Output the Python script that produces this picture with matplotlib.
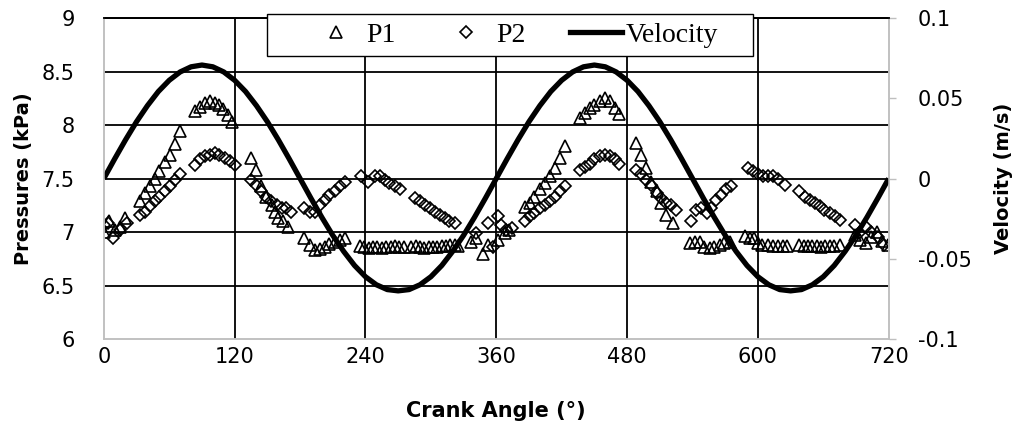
import numpy as np
import matplotlib
matplotlib.use("Agg")
import matplotlib.pyplot as plt
from matplotlib.lines import Line2D
from matplotlib.patches import Rectangle

# --- data ---
p1_deg = [0, 5, 10, 15, 19, 33, 37.5, 42, 47, 51, 56, 60.5, 65, 70,
          83.5, 88, 92.5, 97, 102, 106, 109, 114, 117.5,
          135, 140, 144.5, 149, 154, 157, 160, 164.5, 169,
          184, 189, 193.5, 198, 202.5, 207, 212, 216.5, 221,
          235, 239, 243, 247, 251, 255, 259, 263, 267, 271, 275,
          282, 286, 290, 294, 298, 302, 306, 310, 314, 318, 322, 325,
          337, 341.7, 348, 352.5, 361.6, 367.8, 372,
          386, 391, 395, 400, 404.5, 409, 413.6, 418, 423,
          436.6, 441, 445.7, 450, 455, 459.5, 464, 468.7, 473,
          488.5, 493, 497.7, 502, 507, 511.4, 516, 522,
          537.5, 542, 546.6, 551, 555.8, 560, 565, 569, 574,
          588, 592.5, 596, 600, 604, 609, 613.6, 618, 622.8, 627,
          638, 642, 646, 650, 654, 658, 662, 666, 670, 675,
          689, 694, 699, 704, 709, 714, 719]
p1_kpa = [7.00, 7.10, 7.02, 7.05, 7.13, 7.29, 7.36, 7.43, 7.50, 7.57, 7.65, 7.72, 7.82, 7.94,
          8.13, 8.17, 8.21, 8.22, 8.21, 8.19, 8.15, 8.09, 8.03,
          7.69, 7.58, 7.43, 7.33, 7.25, 7.19, 7.13, 7.10, 7.05,
          6.94, 6.88, 6.83, 6.84, 6.86, 6.89, 6.91, 6.93, 6.94,
          6.87, 6.86, 6.85, 6.86, 6.86, 6.85, 6.86, 6.86, 6.87, 6.86, 6.86,
          6.86, 6.87, 6.86, 6.85, 6.86, 6.86, 6.86, 6.87, 6.87, 6.88, 6.88, 6.87,
          6.91, 6.94, 6.79, 6.88, 6.93, 6.99, 7.02,
          7.23, 7.27, 7.33, 7.40, 7.46, 7.52, 7.60, 7.69, 7.80,
          8.07, 8.11, 8.16, 8.19, 8.22, 8.25, 8.22, 8.16, 8.10,
          7.83, 7.72, 7.60, 7.47, 7.38, 7.27, 7.16, 7.08,
          6.90, 6.91, 6.91, 6.86, 6.85, 6.86, 6.88, 6.90, 6.91,
          6.96, 6.94, 6.94, 6.90, 6.88, 6.88, 6.87, 6.87, 6.87, 6.87,
          6.88, 6.87, 6.87, 6.87, 6.87, 6.86, 6.87, 6.87, 6.87, 6.88,
          6.97, 6.93, 6.90, 6.95, 7.00, 6.92, 6.88]

p2_deg = [0, 4, 8.6, 15, 21,
          33, 37.6, 42, 47, 51, 56, 60.5, 65, 70,
          83.5, 88, 92.6, 97, 102, 106, 111, 115.6, 120,
          135.4, 140, 144.6, 149, 153.8, 158.4, 163, 167.5, 172,
          184, 189, 193.5, 198, 202.7, 207, 212, 216.5, 221,
          236, 242.4, 248.5, 253, 257.7, 262, 267, 271.5,
          285, 290, 294.4, 299, 303.6, 308, 312.8, 317, 322,
          341.7, 352.5, 357, 361.6, 364.7, 369.3, 374,
          386, 391, 395, 400, 404.5, 409, 413.6, 418, 423,
          436.6, 441, 445.7, 450, 455, 459.5, 464, 468.7, 473,
          488.5, 493, 497.7, 502, 507, 511.4, 516, 520.5, 525,
          539, 543.5, 548, 553, 557, 562, 566.5, 571, 575.7,
          591, 595.5, 600, 604.7, 609, 614, 618.4, 624.6,
          638, 643, 647.5, 652, 656.6, 661, 665.8, 670.4, 675,
          689, 693, 699, 704, 710, 716]
p2_kpa = [7.07, 7.08, 6.94, 7.02, 7.08,
          7.16, 7.19, 7.24, 7.29, 7.33, 7.38, 7.43, 7.49, 7.54,
          7.63, 7.68, 7.71, 7.72, 7.74, 7.72, 7.69, 7.66, 7.63,
          7.49, 7.44, 7.38, 7.33, 7.29, 7.25, 7.22, 7.22, 7.19,
          7.22, 7.19, 7.19, 7.25, 7.30, 7.35, 7.38, 7.43, 7.47,
          7.52, 7.47, 7.52, 7.52, 7.49, 7.46, 7.43, 7.40,
          7.32, 7.29, 7.25, 7.22, 7.19, 7.16, 7.13, 7.10, 7.08,
          6.99, 7.08, 6.86, 7.15, 7.07, 7.02, 7.04,
          7.10, 7.15, 7.18, 7.22, 7.25, 7.29, 7.33, 7.38, 7.43,
          7.58, 7.61, 7.64, 7.68, 7.71, 7.72, 7.71, 7.68, 7.64,
          7.58, 7.54, 7.49, 7.44, 7.36, 7.32, 7.27, 7.25, 7.21,
          7.10, 7.21, 7.22, 7.18, 7.22, 7.30, 7.35, 7.40, 7.43,
          7.60, 7.57, 7.54, 7.52, 7.52, 7.52, 7.50, 7.44,
          7.38, 7.33, 7.30, 7.27, 7.24, 7.21, 7.18, 7.15, 7.11,
          7.07, 6.99, 7.05, 7.00, 6.95, 6.88]

# piston velocity, read every 10 degrees
vel_deg = list(range(0, 721, 10))
vel_ms = [0.0, 0.0123, 0.0242, 0.0354, 0.0454, 0.0542, 0.0612, 0.0664, 0.0696,
          0.0707, 0.0696, 0.0664, 0.0612, 0.0542, 0.0454, 0.0354, 0.0242, 0.0123,
          0.0, -0.0123, -0.0242, -0.0354, -0.0454, -0.0542, -0.0612, -0.0662, -0.0692,
          -0.0700, -0.0692, -0.0662, -0.0612, -0.0542, -0.0454, -0.0354, -0.0242, -0.0123,
          0.0, 0.0123, 0.0242, 0.0354, 0.0454, 0.0542, 0.0612, 0.0664, 0.0696,
          0.0707, 0.0696, 0.0664, 0.0612, 0.0542, 0.0454, 0.0354, 0.0242, 0.0123,
          0.0, -0.0123, -0.0242, -0.0354, -0.0454, -0.0542, -0.0612, -0.0662, -0.0692,
          -0.0700, -0.0692, -0.0662, -0.0612, -0.0542, -0.0454, -0.0354, -0.0242, -0.0123,
          0.0]

x_ticks = [0, 120, 240, 360, 480, 600, 720]
p_ticks = [6, 6.5, 7, 7.5, 8, 8.5, 9]
v_ticks = [-0.1, -0.05, 0, 0.05, 0.1]

sans = "DejaVu Sans"
serif = "Liberation Serif"
spine_gray = "#bfbfbf"

fig = plt.figure(figsize=(10.18, 4.30), dpi=100)
ax = fig.add_axes([0.102, 0.2116, 0.771, 0.7465])
ax2 = ax.twinx()

ax.plot(p1_deg, p1_kpa, linestyle="none", marker="^", markersize=8,
        markerfacecolor="none", markeredgecolor="black", markeredgewidth=1.2)
ax.plot(p2_deg, p2_kpa, linestyle="none", marker="D", markersize=6.5,
        markerfacecolor="none", markeredgecolor="black", markeredgewidth=1.2)
ax2.plot(vel_deg, vel_ms, color="black", linewidth=3.8, solid_capstyle="butt")

ax.set_xlim(0, 720)
ax.set_ylim(6, 9)
ax2.set_ylim(-0.1, 0.1)
ax.set_xticks(x_ticks)
ax.set_yticks(p_ticks)
ax2.set_yticks(v_ticks)
ax.set_xticklabels([str(t) for t in x_ticks])
ax.set_yticklabels(["6", "6.5", "7", "7.5", "8", "8.5", "9"])
ax2.set_yticklabels(["-0.1", "-0.05", "0", "0.05", "0.1"])

# black grid, excel style
for v in p_ticks[1:]:
    ax.axhline(v, color="black", linewidth=1.3, zorder=1)
for v in x_ticks[1:-1]:
    ax.axvline(v, color="black", linewidth=1.3, zorder=1)

ax.tick_params(axis="both", length=0, labelsize=15)
ax.tick_params(axis="y", pad=21)
ax.tick_params(axis="x", pad=6)
ax2.tick_params(axis="y", length=5, width=1, color=spine_gray, labelsize=15, pad=16)
for lab in ax.get_xticklabels() + ax.get_yticklabels() + ax2.get_yticklabels():
    lab.set_family(sans)

for a in (ax, ax2):
    for s in ("left", "bottom", "right"):
        a.spines[s].set_color(spine_gray)
        a.spines[s].set_linewidth(1.1)
    a.spines["top"].set_color("black")
    a.spines["top"].set_linewidth(1.3)

ax.set_xlabel("Crank Angle (°)", fontsize=15, fontweight="bold", family=sans, labelpad=24)
ax.set_ylabel("Pressures (kPa)", fontsize=14, fontweight="bold", family=sans, labelpad=6)
ax2.set_ylabel("Velocity (m/s)", fontsize=14, fontweight="bold", family=sans, labelpad=16)

# legend frame drawn by hand (excel pads it wider than tall)
frame = Rectangle((0.2623, 0.8698), 0.4774, 0.0977, transform=fig.transFigure,
                  facecolor="white", edgecolor="black", linewidth=1.0,
                  zorder=4.9, clip_on=False)
ax2.add_patch(frame)

handles = [
    Line2D([], [], linestyle="none", marker="^", markersize=8.5, markerfacecolor="none",
           markeredgecolor="black", markeredgewidth=1.2),
    Line2D([], [], linestyle="none", marker="D", markersize=6.5, markerfacecolor="none",
           markeredgecolor="black", markeredgewidth=1.2),
    Line2D([], [], color="black", linewidth=3.8),
]
leg = ax2.legend(handles, ["P1", "P2", "Velocity"], ncol=3, loc="center",
                 bbox_to_anchor=(0.505, 0.9186), bbox_transform=fig.transFigure,
                 prop={"family": serif, "size": 20}, frameon=False,
                 handlelength=1.87, handletextpad=0.15, columnspacing=1.6,
                 borderpad=0.0, numpoints=1)
leg.set_zorder(5)

fig.savefig("out.png", dpi=100)
